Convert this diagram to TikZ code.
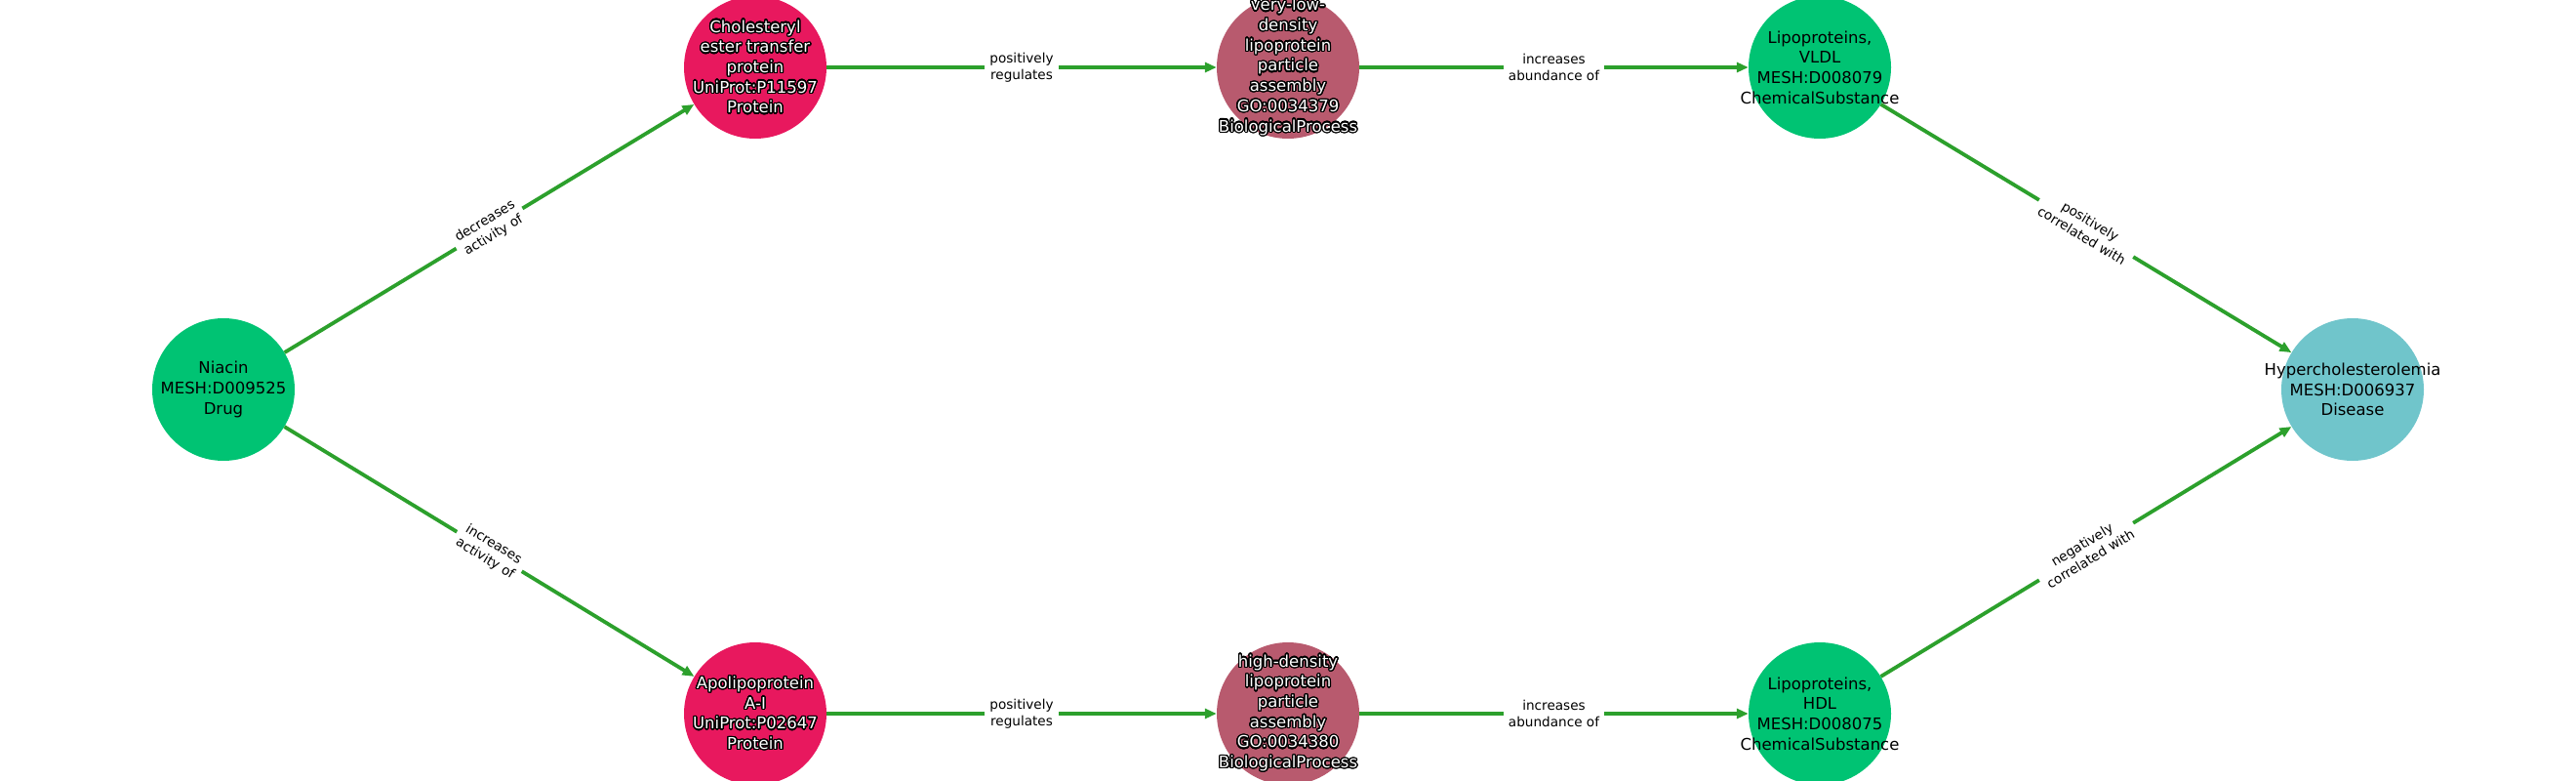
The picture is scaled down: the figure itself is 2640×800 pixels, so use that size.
\documentclass[tikz,border=0pt]{standalone}
\usepackage{fontspec}
\setmainfont{DejaVu Sans}
\usepackage[copies]{contour}
\contourlength{1.3pt}
\contournumber{24}
\usetikzlibrary{arrows.meta}
\definecolor{cgreen}{RGB}{0,195,115}
\definecolor{cpink}{RGB}{232,24,94}
\definecolor{cmauve}{RGB}{184,90,110}
\definecolor{cteal}{RGB}{112,197,203}
\definecolor{egreen}{RGB}{44,160,44}
\newcommand{\ow}[1]{\contour{black}{#1}}
\tikzset{
  ent/.style={circle, minimum size=146pt, inner sep=0pt, draw=none},
  txt/.style={inner sep=0pt, align=center, font=\fontsize{16.5}{20.7}\selectfont, text=black},
  wtxt/.style={txt, text=white},
  rel/.style={draw=egreen, line width=3.8pt, -{Triangle[length=12pt,width=10pt]}},
  lab/.style={fill=white, inner xsep=5pt, inner ysep=3pt, align=center, font=\fontsize{13.6}{17}\selectfont, sloped, text=black}
}
\begin{document}
\begin{tikzpicture}[x=1pt,y=-1pt]
\useasboundingbox (0,0) rectangle (2640,800);
\node[ent, fill=cgreen] (nia) at (229,399) {};
\node[ent, fill=cpink] (cetp) at (774,69) {};
\node[ent, fill=cmauve] (vlpa) at (1320,69) {};
\node[ent, fill=cgreen] (vldl) at (1865,69) {};
\node[ent, fill=cteal] (hyp) at (2411,399) {};
\node[ent, fill=cpink] (apo) at (774,731) {};
\node[ent, fill=cmauve] (hdpa) at (1320,731) {};
\node[ent, fill=cgreen] (hdl) at (1865,731) {};

\node[txt] (niat) at (nia) {Niacin\\MESH:D009525\\Drug};
\node[wtxt] (cetpt) at (cetp) {\ow{Cholesteryl}\\\ow{ester transfer}\\\ow{protein}\\\ow{UniProt:P11597}\\\ow{Protein}};
\node[wtxt] (vlpat) at (vlpa) {\ow{very-low-}\\\ow{density}\\\ow{lipoprotein}\\\ow{particle}\\\ow{assembly}\\\ow{GO:0034379}\\\ow{BiologicalProcess}};
\node[txt] (vldlt) at (vldl) {Lipoproteins,\\VLDL\\MESH:D008079\\ChemicalSubstance};
\node[txt] (hypt) at (hyp) {Hypercholesterolemia\\MESH:D006937\\Disease};
\node[wtxt] (apot) at (apo) {\ow{Apolipoprotein}\\\ow{A-I}\\\ow{UniProt:P02647}\\\ow{Protein}};
\node[wtxt] (hdpat) at (hdpa) {\ow{high-density}\\\ow{lipoprotein}\\\ow{particle}\\\ow{assembly}\\\ow{GO:0034380}\\\ow{BiologicalProcess}};
\node[txt] (hdlt) at (hdl) {Lipoproteins,\\HDL\\MESH:D008075\\ChemicalSubstance};

\draw[rel] (nia) -- node[lab] {decreases\\activity of} (cetp);
\draw[rel] (cetp) -- node[lab] {positively\\regulates} (vlpa);
\draw[rel] (vlpa) -- node[lab] {increases\\abundance of} (vldl);
\draw[rel] (vldl) -- node[lab] {positively\\correlated with} (hyp);
\draw[rel] (nia) -- node[lab] {increases\\activity of} (apo);
\draw[rel] (apo) -- node[lab] {positively\\regulates} (hdpa);
\draw[rel] (hdpa) -- node[lab] {increases\\abundance of} (hdl);
\draw[rel] (hdl) -- node[lab] {negatively\\correlated with} (hyp);
\end{tikzpicture}
\end{document}
